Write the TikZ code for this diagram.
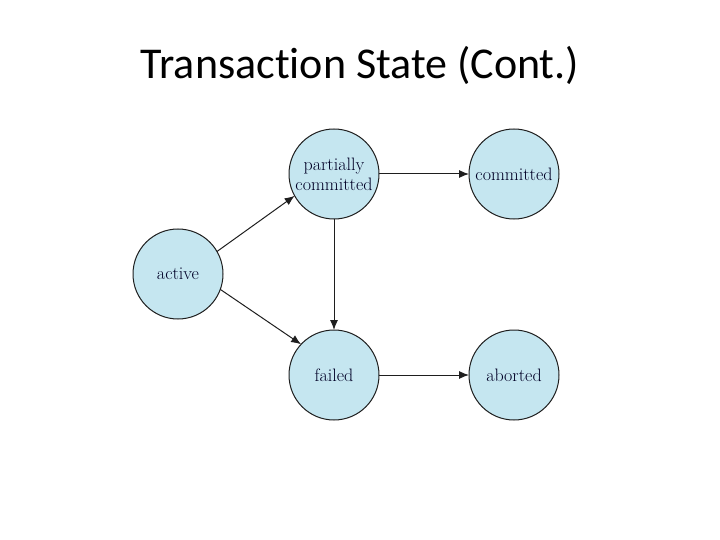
\documentclass[tikz,border=0pt]{standalone}
\usepackage{fontspec}
\newfontfamily\titlefont[Ligatures=NoCommon]{Carlito}
\usetikzlibrary{arrows.meta}
\definecolor{stfill}{RGB}{197,230,240}
\definecolor{stline}{RGB}{30,30,30}
\tikzset{
  state/.style={circle,draw=stline,line width=1pt,fill=stfill,minimum size=90pt,inner sep=0pt,outer sep=0pt,align=center,font=\fontsize{18}{20}\selectfont,text=black!85!blue},
  conn/.style={draw=stline,line width=1pt,-{Latex[length=10pt,width=8pt]}}
}
\begin{document}
\begin{tikzpicture}[x=1pt,y=-1pt]
\useasboundingbox (0,0) rectangle (720,540);
\node[anchor=base,font=\titlefont\fontsize{44}{50}\selectfont] (title) at (360,79) {Transaction State (Cont.)};
\node[state] (pc) at (334,174) {partially\\committed};
\node[state] (com) at (514,174) {committed};
\node[state] (act) at (178,274) {active};
\node[state] (fail) at (334,375) {failed};
\node[state] (ab) at (514,375) {aborted};
\draw[conn] (pc.east) -- (com.west);
\draw[conn] (act.30) -- (pc.209);
\draw[conn] (act.-20) -- (fail.137);
\draw[conn] (pc.south) -- (fail.north);
\draw[conn] (fail.east) -- (ab.west);
\end{tikzpicture}
\end{document}
